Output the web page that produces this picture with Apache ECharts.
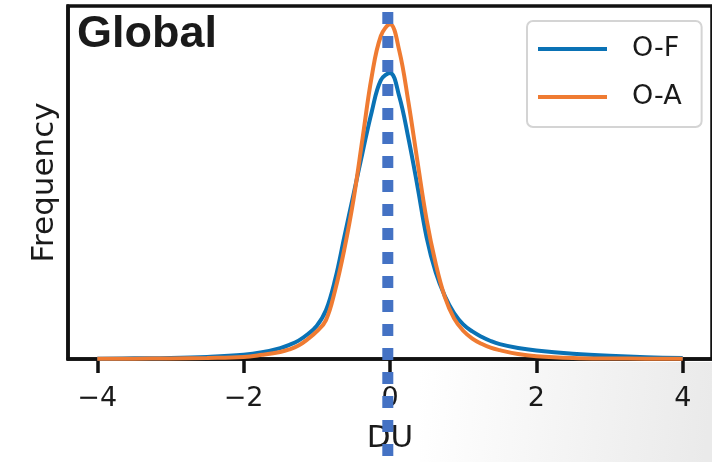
<!DOCTYPE html>
<html>
<head>
<meta charset="utf-8">
<script src="https://cdn.jsdelivr.net/npm/echarts@6/dist/echarts.min.js"></script>
<style>
html,body{margin:0;padding:0;background:#fff;}
#chart{width:712px;height:462px;}
</style>
</head>
<body>
<div id="chart"></div>
<script>
// x positions (DU)
var xs = [-4, -3.5, -3, -2.5, -2, -1.75, -1.5, -1.375, -1.25, -1.125, -1, -0.875, -0.75, -0.625, -0.5, -0.375, -0.25, -0.125, 0, 0.125, 0.25, 0.375, 0.5, 0.625, 0.75, 0.875, 1, 1.125, 1.25, 1.375, 1.5, 1.75, 2, 2.5, 3, 3.5, 4];
// O-F density (relative frequency)
var ofValues = [0.001, 0.002, 0.003, 0.006, 0.012, 0.019, 0.031, 0.040, 0.052, 0.070, 0.094, 0.138, 0.225, 0.345, 0.465, 0.585, 0.70, 0.79, 0.81, 0.745, 0.627, 0.49, 0.345, 0.245, 0.178, 0.13, 0.098, 0.078, 0.063, 0.051, 0.042, 0.031, 0.024, 0.015, 0.009, 0.005, 0.003];
// O-A density
var oaValues = [0.0005, 0.001, 0.0015, 0.003, 0.006, 0.012, 0.020, 0.027, 0.038, 0.056, 0.078, 0.11, 0.195, 0.31, 0.45, 0.625, 0.80, 0.915, 0.948, 0.875, 0.73, 0.56, 0.395, 0.27, 0.175, 0.115, 0.08, 0.058, 0.043, 0.032, 0.025, 0.014, 0.008, 0.003, 0.0015, 0.001, 0.0005];
// vertical reference line (mean)
var refX = -0.03;
var refYs = [0.983, -0.3];
var xTicks = [-4, -2, 0, 2, 4];
var seriesNames = ['O-F', 'O-A'];

function pairs(x, y) { return x.map(function (v, i) { return [v, y[i]]; }); }

var chart = echarts.init(document.getElementById('chart'));
chart.setOption({
  animation: false,
  backgroundColor: '#ffffff',
  graphic: [{
    type: 'rect', silent: true, z: -10,
    shape: { x: 420, y: 362, width: 292, height: 100 },
    style: { fill: new echarts.graphic.LinearGradient(0, 0, 1, 0.3, [
      { offset: 0, color: 'rgba(255,255,255,1)' },
      { offset: 1, color: 'rgba(234,234,234,1)' }]) }
  }],
  title: {
    text: 'Global', left: 72, top: 7,
    textStyle: { fontFamily: 'Liberation Sans', fontWeight: 'bold', fontSize: 45, color: '#1a1a1a' }
  },
  legend: {
    data: seriesNames, orient: 'vertical', left: 527, top: 21,
    padding: [14, 20, 16, 11], itemGap: 20, itemWidth: 69, itemHeight: 4,
    icon: 'rect', backgroundColor: '#fff',
    borderColor: '#d4d4d4', borderWidth: 2, borderRadius: 6,
    textStyle: { fontFamily: 'DejaVu Sans', fontSize: 27, color: '#1a1a1a', lineHeight: 28, padding: [0, 0, 0, 20] }
  },
  grid: { left: 68, top: 6, right: -6, bottom: 103, show: true, borderColor: '#111', borderWidth: 3.5, backgroundColor: 'transparent' },
  xAxis: {
    type: 'value', min: -4.4, max: 4.4,
    name: 'DU', nameLocation: 'middle', nameGap: 64,
    nameTextStyle: { fontFamily: 'DejaVu Sans', fontSize: 31, color: '#1a1a1a' },
    axisLine: { show: true, onZero: false, lineStyle: { color: '#111', width: 3.5 } },
    axisTick: { show: true, length: 14, customValues: xTicks, lineStyle: { color: '#111', width: 3.5 } },
    axisLabel: { show: true, customValues: xTicks, margin: 26, fontFamily: 'DejaVu Sans', fontSize: 27, color: '#1a1a1a',
      formatter: function (v) { return String(v).replace('-', '\u2212'); } },
    splitLine: { show: false }
  },
  yAxis: {
    type: 'value', min: 0, max: 1,
    name: 'Frequency', nameLocation: 'middle', nameGap: 8, nameRotate: 90,
    nameTextStyle: { fontFamily: 'DejaVu Sans', fontSize: 31, color: '#1a1a1a' },
    axisLine: { show: true, onZero: false, lineStyle: { color: '#111', width: 3.5 } },
    axisTick: { show: false }, axisLabel: { show: false }, splitLine: { show: false }
  },
  series: [
    { name: seriesNames[0], type: 'line', data: pairs(xs, ofValues), smooth: 0.4, showSymbol: false, symbol: 'none',
      color: '#0a72b5', lineStyle: { color: '#0a72b5', width: 4 }, z: 3 },
    { name: seriesNames[1], type: 'line', data: pairs(xs, oaValues), smooth: 0.4, showSymbol: false, symbol: 'none',
      color: '#ef7b32', lineStyle: { color: '#ef7b32', width: 4 }, z: 4 },
    { name: 'ref', type: 'line', data: refYs.map(function (y) { return [refX, y]; }), clip: false, showSymbol: false, symbol: 'none',
      silent: true, lineStyle: { color: '#4472c4', width: 11, type: [12, 12], cap: 'butt' }, z: 6 }
  ]
});
</script>
</body>
</html>
